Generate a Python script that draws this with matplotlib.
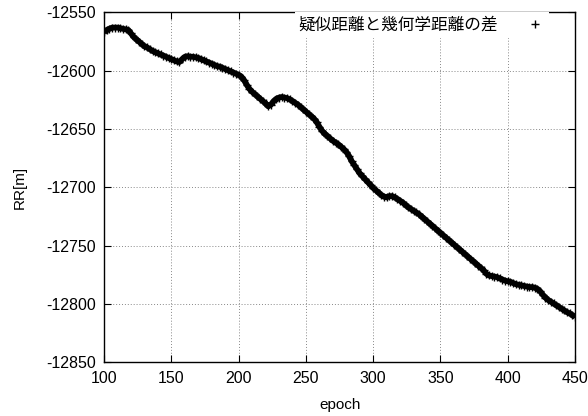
import numpy as np
import matplotlib.pyplot as plt

# Data (every 2 epochs)
epoch = np.arange(100, 451, 2)
rr = [
    -12567, -12565, -12564, -12563, -12563, -12563, -12563.5, -12564, -12564.5, -12565,
    -12568, -12571, -12573, -12575, -12577, -12579, -12580, -12581.5, -12583, -12584,
    -12585, -12586, -12587, -12588, -12589, -12590, -12591, -12592, -12592.5, -12590,
    -12588, -12587.5, -12588, -12588, -12588.5, -12589, -12590, -12591, -12592, -12593,
    -12594, -12595, -12596, -12596.5, -12597.5, -12598.5, -12599.5, -12600.5, -12601.5, -12602.5,
    -12603.5, -12605, -12608, -12612, -12615.5, -12618, -12620, -12622, -12624, -12626,
    -12628, -12630.5, -12629, -12626, -12624, -12623, -12622.5, -12623, -12623.5, -12624.5,
    -12626, -12627.5, -12629, -12631, -12633, -12635, -12637, -12639, -12641, -12644,
    -12648, -12651.5, -12654, -12656, -12658, -12660, -12661.5, -12663, -12665, -12667,
    -12669.5, -12673, -12677.5, -12681, -12684.5, -12688, -12690.5, -12693, -12695.5, -12698,
    -12700.5, -12702.5, -12704.5, -12706.5, -12708, -12708.5, -12707.5, -12707.5, -12708.5, -12710,
    -12711.5, -12713, -12715, -12717, -12718.5, -12720, -12721.5, -12723, -12725, -12727,
    -12729, -12731, -12733, -12735, -12737, -12739, -12741, -12743, -12745, -12747,
    -12749, -12751, -12753, -12755, -12757, -12759, -12761, -12763, -12765, -12767,
    -12769, -12771, -12774, -12775.5, -12776, -12776.5, -12777, -12778, -12779, -12780,
    -12780.5, -12781, -12782, -12783, -12783.5, -12784, -12784.5, -12785, -12785.5, -12785.5,
    -12786, -12787, -12789, -12792, -12794.5, -12796.5, -12798, -12799.5, -12801, -12802.5,
    -12804, -12805.5, -12807, -12808, -12809.5, -12811,
]
label = '疑似距離と幾何学距離の差'
xticks = [100, 150, 200, 250, 300, 350, 400, 450]
yticks = [-12850, -12800, -12750, -12700, -12650, -12600, -12550]

plt.rcParams['font.family'] = ['Liberation Sans', 'Noto Sans CJK JP', 'DejaVu Sans']
plt.rcParams['axes.unicode_minus'] = False

fig = plt.figure(figsize=(5.88, 4.16), dpi=100)
ax = fig.add_axes([0.177, 0.129, 0.801, 0.841])

# thick band of points, as in the gnuplot original
ax.plot(epoch, rr, '-', color='black', linewidth=4.2, solid_capstyle='butt')
ax.plot(epoch, rr, '+', color='black', markersize=5.5, markeredgewidth=1.0, label=label)

ax.set_xlim(100, 450)
ax.set_ylim(-12850, -12550)
ax.set_xticks(xticks)
ax.set_yticks(yticks)
ax.tick_params(direction='in', length=5, width=0.8, top=True, right=True, labelsize=11.5, pad=6)
ax.grid(True, linestyle=(0, (1, 2)), color='#888888', linewidth=0.7)
for s in ax.spines.values():
    s.set_linewidth(1.0)

ax.set_xlabel('epoch', fontsize=11, labelpad=9)
ax.set_ylabel('RR[m]', fontsize=11, labelpad=14)

leg = ax.legend(loc='upper right', bbox_to_anchor=(0.945, 1.0), borderaxespad=0,
                markerfirst=False, frameon=True, fancybox=False, borderpad=0.25,
                edgecolor='white', framealpha=1, handlelength=1.2, handletextpad=1.6,
                prop={'family': ['Noto Sans CJK JP'], 'size': 12})
leg.get_frame().set_linewidth(0)

plt.savefig('out.png', dpi=100)
